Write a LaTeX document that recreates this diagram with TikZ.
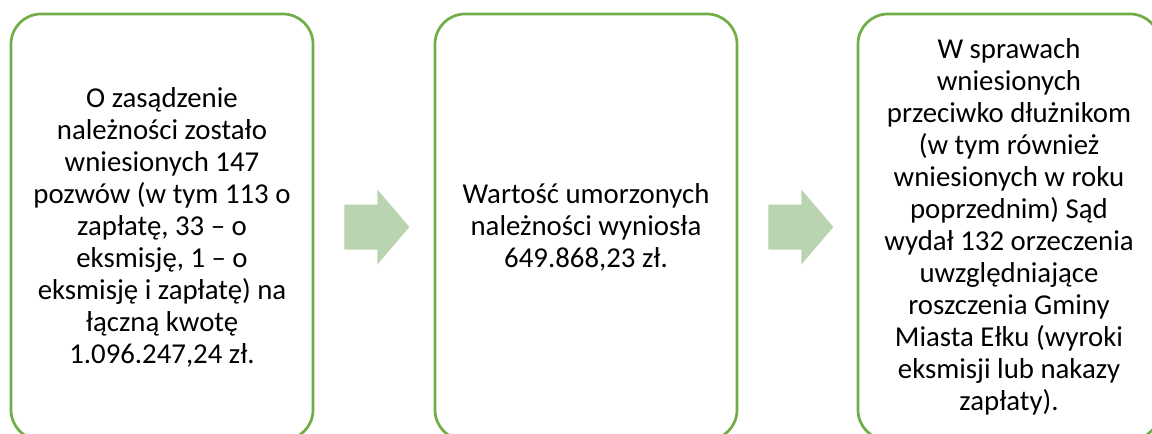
\documentclass[tikz,border=0pt]{standalone}
\usepackage{fontspec}
\setmainfont{Carlito}
\usetikzlibrary{calc}
\definecolor{ramka}{RGB}{112,173,71}
\definecolor{strzalka}{RGB}{186,212,177}

\begin{document}
\begin{tikzpicture}[x=1pt,y=-1pt,
    pole/.style={draw=ramka,line width=2.7pt,rounded corners=30pt,
      minimum width=302pt,minimum height=426pt,inner sep=0pt,
      align=center,font=\fontsize{28.8}{32}\selectfont}]
        \useasboundingbox (0,0) rectangle (1152,434);

        % Trzy pola
        \node[pole] (P1) at (162,227) {O zasądzenie\\należności zostało\\wniesionych 147\\pozwów (w tym 113 o\\zapłatę, 33 -- o\\eksmisję, 1 -- o\\eksmisję i zapłatę) na\\łączną kwotę\\1.096.247,24 zł.};
        \node[pole] (P2) at (586,227) {Wartość umorzonych\\należności wyniosła\\649.868,23 zł.};
        \node[pole] (P3) at (1009,227) {W sprawach\\wniesionych\\przeciwko dłużnikom\\(w tym również\\wniesionych w roku\\poprzednim) Sąd\\wydał 132 orzeczenia\\uwzględniające\\roszczenia Gminy\\Miasta Ełku (wyroki\\eksmisji lub nakazy\\zapłaty).};

        % Strzałki między polami
        \foreach \a in {P1,P2}{
          \coordinate (S\a) at ($(\a.east)+(30,0)$);
          \fill[strzalka] (S\a) ++(0,-22.5) -- ++(33,0) -- ++(0,-15) -- ++(32,37.5)
            -- ++(-32,37.5) -- ++(0,-15) -- ++(-33,0) -- cycle;
        }
    \end{tikzpicture}
\end{document}
